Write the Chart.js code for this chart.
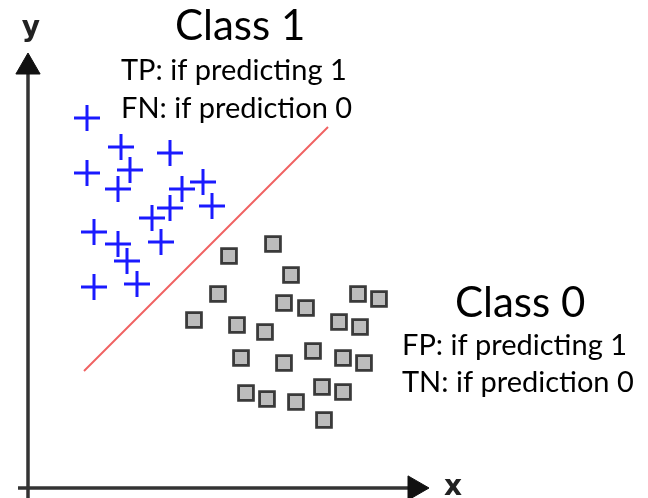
<!DOCTYPE html>
<html>
<head>
<meta charset="utf-8">
<script src="https://cdn.jsdelivr.net/npm/chart.js@4/dist/chart.umd.min.js"></script>
<style>
  html, body { margin: 0; padding: 0; background: #fff; }
  #wrap { width: 648px; height: 498px; }
</style>
</head>
<body>
<div id="wrap"><canvas id="chart" width="648" height="498"></canvas></div>
<script>
// Class 1 points (blue crosses), x and y
const class1X = [87, 121, 170, 87, 130, 118, 182, 203, 170, 152, 212, 94, 118, 161, 127, 94, 137]
const class1Y = [118, 147, 153, 173, 170, 189, 189, 182, 208, 218, 206, 232, 244, 242, 261, 287, 284]

// Class 0 points (gray squares)
const class0X = [273, 229, 291, 218, 284, 306, 358, 379, 194, 237, 265, 339, 360, 241, 284, 313, 343, 364, 246, 267, 296, 322, 343, 324]
const class0Y = [244, 256, 275, 294, 303, 308, 294, 299, 320, 325, 332, 322, 327, 358, 363, 351, 358, 363, 393, 399, 402, 387, 392, 420]

// Decision boundary endpoints
const boundaryX = [84, 328]
const boundaryY = [371, 127]

// Axes: start and arrow end of each
const xAxisX = [18, 415]
const xAxisY = [488, 488]
const yAxisX = [28, 28]
const yAxisY = [498, 67]

// Texts
const classLabels = ["Class 1", "Class 0"]
const class1Notes = ["TP: if predicting 1", "FN: if prediction 0"]
const class0Notes = ["FP: if predicting 1", "TN: if prediction 0"]
const axisNames = ["x", "y"]

const toPoints = (xs, ys) => xs.map((x, i) => ({ x: x, y: ys[i] }))

// Dibuja los textos sobre el gráfico
const labelsPlugin = {
  id: "labels",
  afterDatasetsDraw(chart) {
    const ctx = chart.ctx
    const sx = chart.scales.x
    const sy = chart.scales.y
    const put = (text, x, y) => ctx.fillText(text, sx.getPixelForValue(x), sy.getPixelForValue(y))
    ctx.save()
    ctx.fillStyle = "#000"
    ctx.textBaseline = "alphabetic"
    ctx.textAlign = "left"
    ctx.font = "42px Lato"
    put(classLabels[0], 175, 40)
    put(classLabels[1], 455, 317)
    ctx.font = "29px Lato"
    put(class1Notes[0], 121, 80)
    put(class1Notes[1], 121, 118)
    put(class0Notes[0], 402, 355)
    put(class0Notes[1], 402, 392)
    ctx.textAlign = "center"
    ctx.fillStyle = "#222"
    ctx.font = "bold 28px 'DejaVu Sans'"
    put(axisNames[1], 31, 36)
    put(axisNames[0], 453, 495)
    ctx.restore()
  },
}

const axisStyle = {
  showLine: true,
  borderColor: "#333",
  borderWidth: 3.5,
  pointStyle: "triangle",
  pointRadius: [0, 14],
  pointBackgroundColor: "#111",
  pointBorderColor: "#111",
  pointBorderWidth: 1,
}

new Chart(document.getElementById("chart"), {
  type: "scatter",
  data: {
    datasets: [
      {
        ...axisStyle,
        label: "x axis",
        data: toPoints(xAxisX, xAxisY),
        pointRotation: 90,
      },
      {
        ...axisStyle,
        label: "y axis",
        data: toPoints(yAxisX, yAxisY),
        pointRotation: 0,
      },
      {
        label: "boundary",
        data: toPoints(boundaryX, boundaryY),
        showLine: true,
        borderColor: "#f06262",
        borderWidth: 2,
        pointRadius: 0,
      },
      {
        label: "Class 1",
        data: toPoints(class1X, class1Y),
        pointStyle: "cross",
        pointRadius: 13,
        borderWidth: 3,
        borderColor: "#1a1aff",
      },
      {
        label: "Class 0",
        data: toPoints(class0X, class0Y),
        pointStyle: "rect",
        pointRadius: 10.5,
        borderWidth: 2.8,
        borderColor: "#3a3a3a",
        backgroundColor: "#bcbcbc",
      },
    ],
  },
  options: {
    responsive: false,
    animation: false,
    layout: { padding: 0, autoPadding: false },
    scales: {
      x: { type: "linear", min: 0, max: 648, display: false },
      y: { type: "linear", min: 0, max: 498, reverse: true, display: false },
    },
    plugins: {
      legend: { display: false },
      tooltip: { enabled: false },
    },
  },
  plugins: [labelsPlugin],
})
</script>
</body>
</html>
